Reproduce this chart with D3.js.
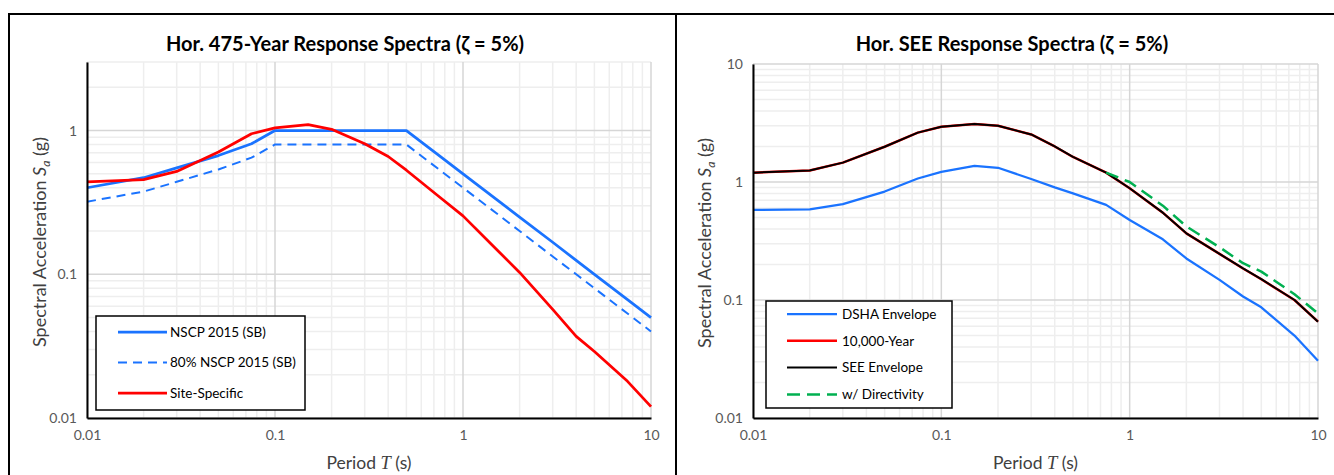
<!DOCTYPE html>
<html>
<head>
<meta charset="utf-8">
<script src="https://cdn.jsdelivr.net/npm/d3@7"></script>
<style>
  body { margin: 0; background: #fff; }
  svg { font-family: Lato, "Open Sans", sans-serif; }
</style>
</head>
<body>
<svg id="chart" width="1334" height="475"></svg>
<script>
// ---- data ----
// left panel: 475-year spectra
var codePeriods = [0.01, 0.02, 0.03, 0.05, 0.075, 0.1, 0.5, 0.75, 1, 1.5, 2, 3, 4, 5, 7.5, 10];
var nscpSa      = [0.40, 0.47, 0.55, 0.67, 0.81, 1.0, 1.0, 0.667, 0.5, 0.333, 0.25, 0.167, 0.125, 0.1, 0.0667, 0.05];
var nscp80Sa    = [0.32, 0.376, 0.44, 0.536, 0.648, 0.8, 0.8, 0.533, 0.4, 0.267, 0.2, 0.133, 0.1, 0.08, 0.0533, 0.04];

var sitePeriods = [0.01, 0.02, 0.03, 0.05, 0.075, 0.1, 0.15, 0.2, 0.3, 0.4, 0.5, 0.75, 1, 1.5, 2, 3, 4, 5, 7.5, 10];
var siteSa      = [0.44, 0.456, 0.52, 0.71, 0.95, 1.045, 1.10, 1.02, 0.81, 0.66, 0.53, 0.345, 0.255, 0.15, 0.103, 0.057, 0.037, 0.029, 0.018, 0.012];

// right panel: SEE spectra
var seePeriods  = [0.01, 0.02, 0.03, 0.05, 0.075, 0.1, 0.15, 0.2, 0.3, 0.4, 0.5, 0.75, 1, 1.5, 2, 3, 4, 5, 7.5, 10];
var dshaSa      = [0.58, 0.585, 0.65, 0.83, 1.07, 1.22, 1.37, 1.32, 1.06, 0.9, 0.8, 0.64, 0.477, 0.327, 0.225, 0.148, 0.107, 0.0867, 0.050, 0.0306];
var yr10000Sa   = [1.2, 1.25, 1.46, 1.99, 2.62, 2.94, 3.1, 3.0, 2.53, 2.0, 1.63, 1.2, 0.885, 0.55, 0.367, 0.246, 0.185, 0.15, 0.1, 0.0655];
var seeSa       = [1.2, 1.25, 1.46, 1.99, 2.62, 2.94, 3.1, 3.0, 2.53, 2.0, 1.63, 1.2, 0.885, 0.55, 0.367, 0.246, 0.185, 0.15, 0.1, 0.0655];
var dirPeriods  = [0.75, 1, 1.5, 2, 3, 4, 5, 7.5, 10];
var dirSa       = [1.2, 1.0, 0.63, 0.42, 0.28, 0.205, 0.174, 0.112, 0.077];

var xTicks = [0.01, 0.1, 1, 10];

function zip(xs, ys) {
  return xs.map(function(x, i) { return {t: x, sa: ys[i]}; });
}

var svg = d3.select('#chart');

// outer frame of the two excel charts
svg.append('path')
   .attr('d', 'M9,475 V14 H1334 M676,14 V475')
   .attr('fill', 'none')
   .attr('stroke', '#000')
   .attr('stroke-width', 2);

function drawPanel(p) {
  var x = d3.scaleLog().domain([0.01, 10]).range([p.left, p.right]);
  var y = d3.scaleLog().domain([0.01, p.yMax]).range([p.bottom, p.top]);
  var g = svg.append('g');

  // minor + major gridlines
  var minorX = [], minorY = [];
  [0.01, 0.1, 1].forEach(function(dec) {
    for (var k = 2; k <= 9; k++) minorX.push(dec * k);
  });
  [0.01, 0.1, 1, 10].forEach(function(dec) {
    for (var k = 2; k <= 9; k++) if (dec * k <= p.yMax + 1e-9) minorY.push(dec * k);
  });
  var majorY = [0.01, 0.1, 1, 10].filter(function(v) { return v <= p.yMax; });

  g.selectAll('.gx').data(minorX).enter().append('line')
   .attr('x1', x).attr('x2', x).attr('y1', p.top).attr('y2', p.bottom)
   .attr('stroke', '#eeeeee').attr('stroke-width', 1.5);
  g.selectAll('.gy').data(minorY).enter().append('line')
   .attr('y1', y).attr('y2', y).attr('x1', p.left).attr('x2', p.right)
   .attr('stroke', '#eeeeee').attr('stroke-width', 1.5);
  g.selectAll('.mx').data(xTicks).enter().append('line')
   .attr('x1', x).attr('x2', x).attr('y1', p.top).attr('y2', p.bottom)
   .attr('stroke', '#d6d6d6').attr('stroke-width', 1.5);
  g.selectAll('.my').data(majorY).enter().append('line')
   .attr('y1', y).attr('y2', y).attr('x1', p.left).attr('x2', p.right)
   .attr('stroke', '#d6d6d6').attr('stroke-width', 1.5);

  // axes
  var xAxis = d3.axisBottom(x).tickValues(xTicks).tickSize(0).tickPadding(12)
                .tickFormat(function(d) { return String(d); });
  var yAxis = d3.axisLeft(y).tickValues(majorY).tickSize(0).tickPadding(10)
                .tickFormat(function(d) { return String(d); });

  var line = d3.line()
    .x(function(d) { return x(d.t); })
    .y(function(d) { return y(d.sa); });

  p.series.forEach(function(s) {
    g.append('path')
     .datum(s.data)
     .attr('d', line)
     .attr('fill', 'none')
     .attr('stroke', s.color)
     .attr('stroke-width', s.width)
     .attr('stroke-dasharray', s.dash || null)
     .attr('stroke-linejoin', 'round');
  });

  var gx = g.append('g').attr('transform', 'translate(0,' + p.bottom + ')').call(xAxis);
  var gy = g.append('g').attr('transform', 'translate(' + p.left + ',0)').call(yAxis);
  [gx, gy].forEach(function(a) {
    a.select('.domain').attr('stroke', '#000').attr('stroke-width', 2);
    a.selectAll('text').attr('fill', '#595959').style('font-size', '14px')
     .style('font-family', 'Lato, sans-serif');
  });

  // title
  g.append('text')
   .attr('x', p.titleX).attr('y', 51)
   .attr('text-anchor', 'middle')
   .style('font-size', '20px').style('font-weight', 'bold')
   .text(p.title);

  // axis titles
  var xt = g.append('text')
   .attr('x', (p.left + p.right) / 2).attr('y', 469)
   .attr('text-anchor', 'middle').attr('fill', '#404040')
   .style('font-size', '17.5px');
  xt.append('tspan').text('Period ');
  xt.append('tspan').style('font-family', '"Liberation Serif", serif')
    .style('font-style', 'italic').style('font-size', '18.5px').text('T');
  xt.append('tspan').text(' (s)');

  var yt = g.append('text')
   .attr('transform', 'translate(' + p.yTitleX + ',' + ((p.top + p.bottom) / 2 + 2) + ') rotate(-90)')
   .attr('text-anchor', 'middle').attr('fill', '#404040')
   .style('font-size', '18px');
  yt.append('tspan').text('Spectral Acceleration ');
  yt.append('tspan').style('font-style', 'italic').text('S');
  yt.append('tspan').style('font-style', 'italic').style('font-size', '12px')
    .attr('dy', 4).text('a');
  yt.append('tspan').attr('dy', -4).text(' (g)');

  // legend
  var L = p.legend;
  var lg = g.append('g');
  lg.append('rect')
    .attr('x', L.x).attr('y', L.y).attr('width', L.w).attr('height', L.h)
    .attr('fill', '#fff').attr('stroke', '#000').attr('stroke-width', 1.5);
  L.rows.forEach(function(r, i) {
    var s = p.series[r];
    var yy = L.y0 + i * L.step;
    lg.append('line')
      .attr('x1', L.lx0).attr('x2', L.lx1).attr('y1', yy).attr('y2', yy)
      .attr('stroke', s.color).attr('stroke-width', s.width)
      .attr('stroke-dasharray', s.dash || null);
    lg.append('text')
      .attr('x', L.tx).attr('y', yy).attr('dy', '0.35em')
      .attr('fill', '#000').style('font-size', '13.5px')
      .text(s.name);
  });
}

drawPanel({
  left: 87, right: 651, top: 62, bottom: 418, yMax: 3,
  titleX: 345, yTitleX: 46,
  title: 'Hor. 475-Year Response Spectra (\u03B6 = 5%)',
  series: [
    {name: 'NSCP 2015 (SB)', data: zip(codePeriods, nscpSa), color: '#1a73ff', width: 2.75},
    {name: '80% NSCP 2015 (SB)', data: zip(codePeriods, nscp80Sa), color: '#1a73ff', width: 2, dash: '9,6'},
    {name: 'Site-Specific', data: zip(sitePeriods, siteSa), color: '#ff0000', width: 2.75}
  ],
  legend: {x: 96, y: 316, w: 209, h: 94, y0: 332, step: 30.5, lx0: 118, lx1: 167, tx: 170, rows: [0, 1, 2]}
});

drawPanel({
  left: 753, right: 1318, top: 64, bottom: 418, yMax: 10,
  titleX: 1012, yTitleX: 711,
  title: 'Hor. SEE Response Spectra (\u03B6 = 5%)',
  series: [
    {name: 'DSHA Envelope', data: zip(seePeriods, dshaSa), color: '#1a73ff', width: 2.25},
    {name: '10,000-Year', data: zip(seePeriods, yr10000Sa), color: '#ff0000', width: 2.5},
    {name: 'SEE Envelope', data: zip(seePeriods, seeSa), color: '#000000', width: 2},
    {name: 'w/ Directivity', data: zip(dirPeriods, dirSa), color: '#00b050', width: 2.5, dash: '13,7'}
  ],
  legend: {x: 766, y: 301, w: 186, h: 107, y0: 314, step: 26.8, lx0: 787, lx1: 837, tx: 842, rows: [0, 1, 2, 3]}
});
</script>
</body>
</html>
